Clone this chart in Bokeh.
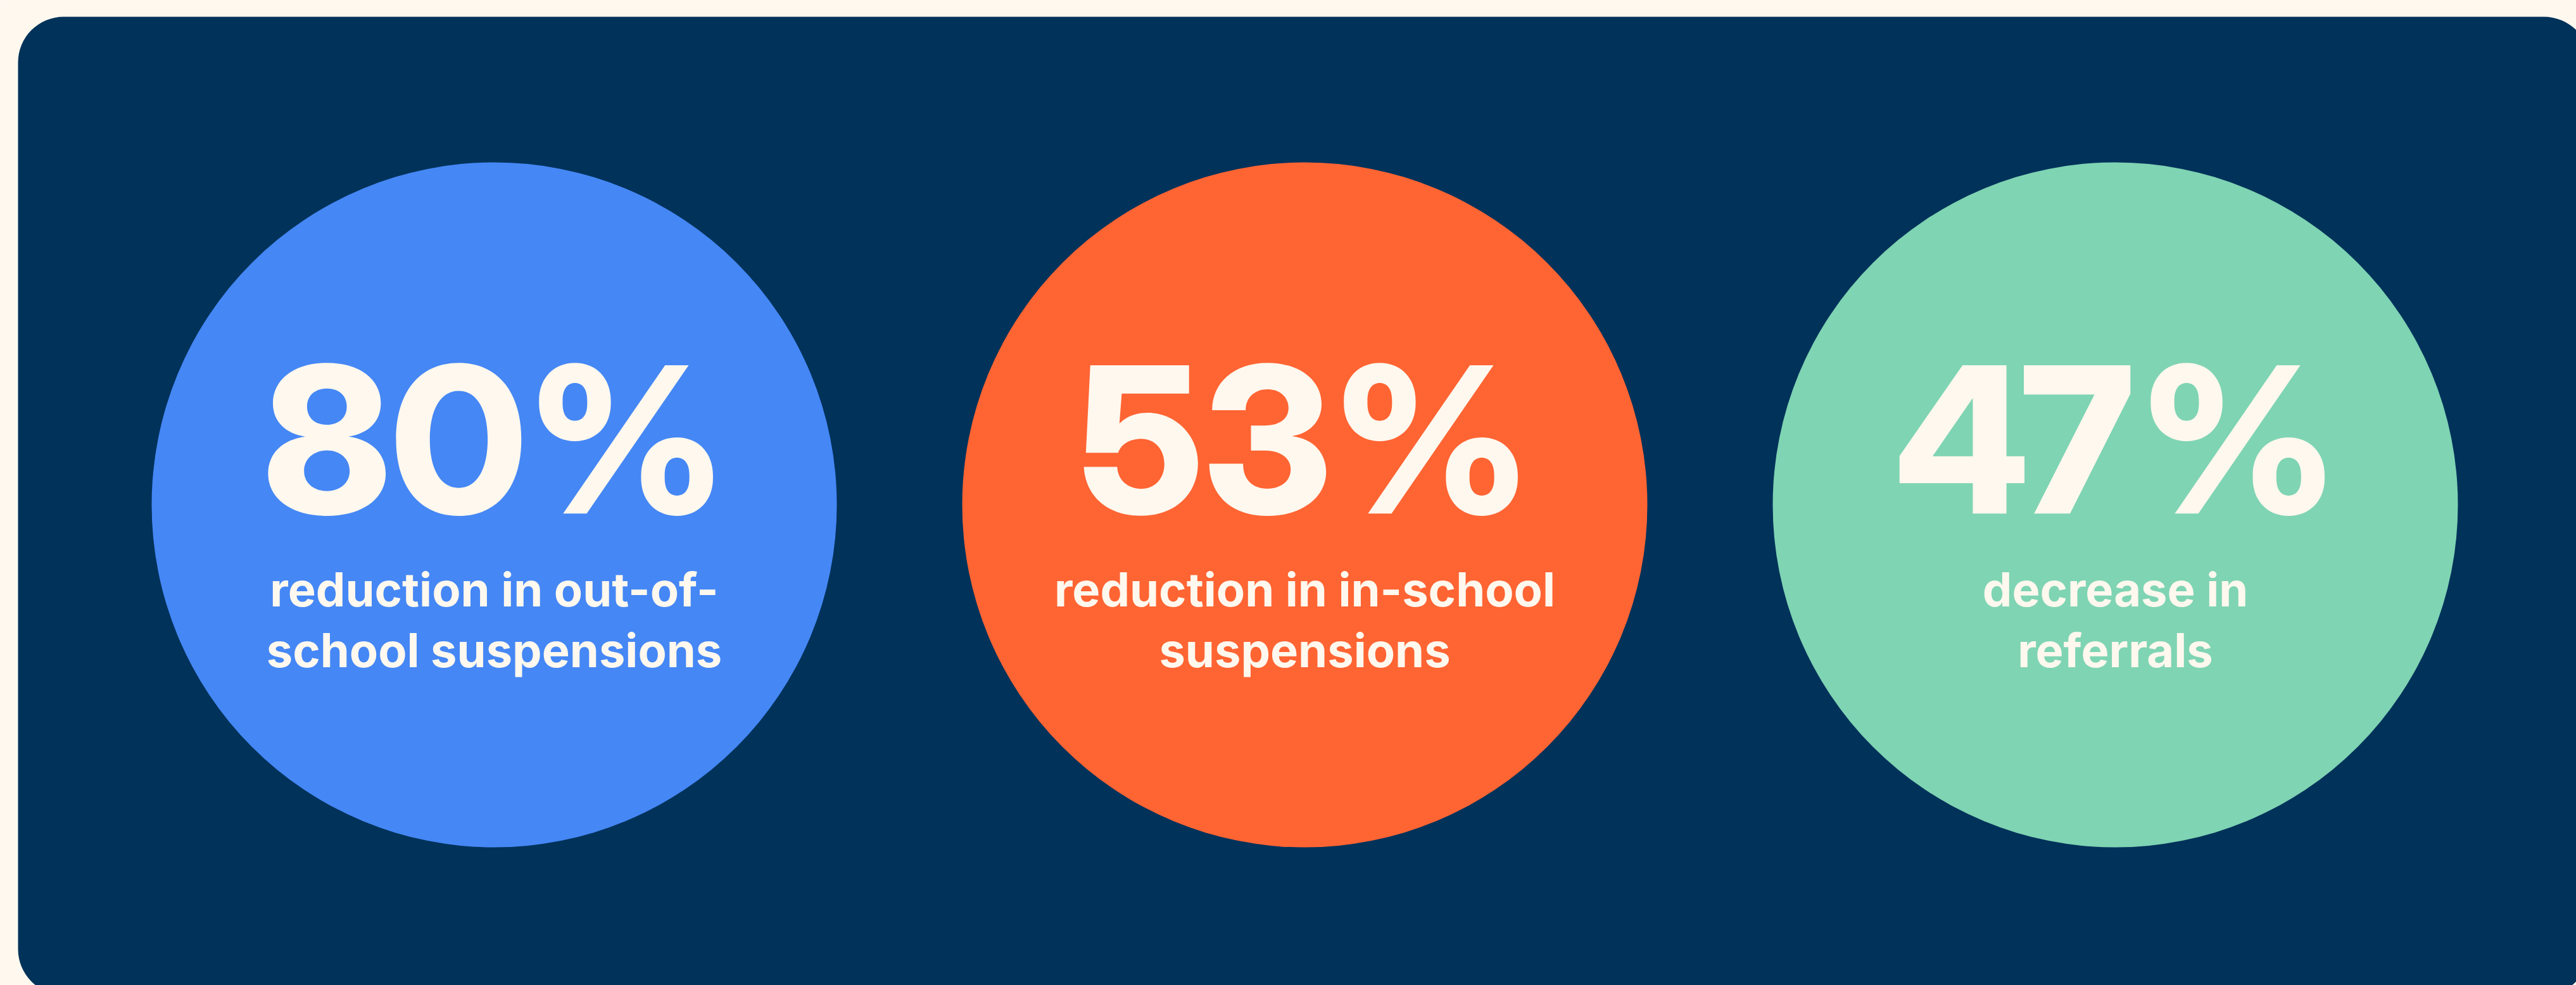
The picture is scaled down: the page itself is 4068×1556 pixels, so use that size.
from bokeh.plotting import figure
from bokeh.models import Range1d, BoxAnnotation, ColumnDataSource
from bokeh.core.properties import value
from bokeh.embed import file_html
from bokeh.resources import INLINE

# ---- data ----
values = [80, 53, 47]
labels = ["reduction in out-of-\nschool suspensions",
          "reduction in in-school\nsuspensions",
          "decrease in\nreferrals"]
colors = ["#4587F5", "#FF6433", "#7FD4B3"]

NAVY = "#01325A"
CREAM = "#FEF8EE"

W, H = 4068, 1556
p = figure(width=W, height=H, output_backend="svg", toolbar_location=None,
           x_range=Range1d(0, W), y_range=Range1d(H, 0),
           min_border=0, background_fill_color=CREAM, border_fill_color=CREAM,
           outline_line_color=None)
p.axis.visible = False
p.grid.visible = False

panel = BoxAnnotation(left=28, right=4089, top=26, bottom=1571,
                      fill_color=NAVY, fill_alpha=1, line_color=None,
                      border_radius=72, level="underlay")
p.add_layout(panel)

cx0, step, cy, r = 780, 1280, 797, 541
xs = [cx0 + i * step for i in range(len(values))]

NUM_SIZE, LAB_SIZE = 322, 74
SHIFT = 0.355  # baseline correction (em)

src = ColumnDataSource(dict(
    x=xs, y=[cy] * len(values), color=colors,
    num=[f"{v}%" for v in values],
    l1=[s.split("\n")[0] for s in labels],
    l2=[s.split("\n")[1] for s in labels],
    ny=[808 - SHIFT * NUM_SIZE] * len(values),
    y1=[957 - SHIFT * LAB_SIZE] * len(values),
    y2=[1053 - SHIFT * LAB_SIZE] * len(values),
))

p.circle(x="x", y="y", radius=r, fill_color="color", line_color=None, source=src)

p.text(x="x", y="ny", text="num", source=src, text_align="center",
       text_baseline="alphabetic", text_color=CREAM,
       text_font=value("Inter Display ExtraBold, Inter Display, Inter ExtraBold, Inter"),
       text_font_style="bold",
       text_font_size=f"{NUM_SIZE}px")
for col, ycol in (("l1", "y1"), ("l2", "y2")):
    p.text(x="x", y=ycol, text=col, source=src, text_align="center",
           text_baseline="alphabetic", text_color=CREAM,
           text_font=value("Inter"), text_font_style="bold",
           text_font_size=f"{LAB_SIZE}px")

open("out.html", "w").write(file_html(p, INLINE))
